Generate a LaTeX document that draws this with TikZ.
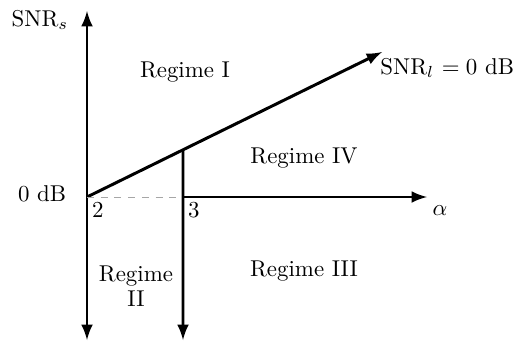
\documentclass[tikz,border=0pt]{standalone}
\usepackage{amsmath, amssymb}
\usetikzlibrary{calc}

\begin{document}
\begin{tikzpicture}[x=0.437pt,y=-0.437pt,>=latex]
			\useasboundingbox (0,0) rectangle (524,343);
			\coordinate (O) at (87,197);
			\coordinate (T) at (87,11);
			\coordinate (B) at (87,340);
			\coordinate (L) at (382,52);
			\coordinate (P) at ($(O)!{96/295}!(L)$);
			\coordinate (Q) at (183,197);
			\coordinate (R) at (427,197);
			\coordinate (S) at (183,340);

			\draw[line width=1.3pt,->] (O)--(T);
			\draw[line width=1.3pt,->] (O)--(B);
			\draw[line width=1.3pt,->] (O)--(L);
			\draw[line width=1.3pt,->] (Q)--(R);
			\draw[line width=1.3pt,->] (P)--(S);
			\draw[dashed,gray!70] (O)--(Q);

			\node (snrs) at (40,20) {SNR$_s$};
			\node (zero) at (42,194) {0 dB};
			\node[below right,inner sep=2pt] (two) at (O) {2};
			\node[below right,inner sep=2pt] (three) at (Q) {3};
			\node (alpha) at (440,211) {$\alpha$};
			\node[right,inner sep=0pt] (snrl) at (380,68) {SNR$_l$ $=0$ dB};
			\node (r1) at (185,72) {Regime I};
			\node (r4) at (304,158) {Regime IV};
			\node (r3) at (304,271) {Regime III};
			\node[align=center,inner sep=0pt] (r2) at (136,286) {Regime\\[-1pt]II};
		\end{tikzpicture}
\end{document}
